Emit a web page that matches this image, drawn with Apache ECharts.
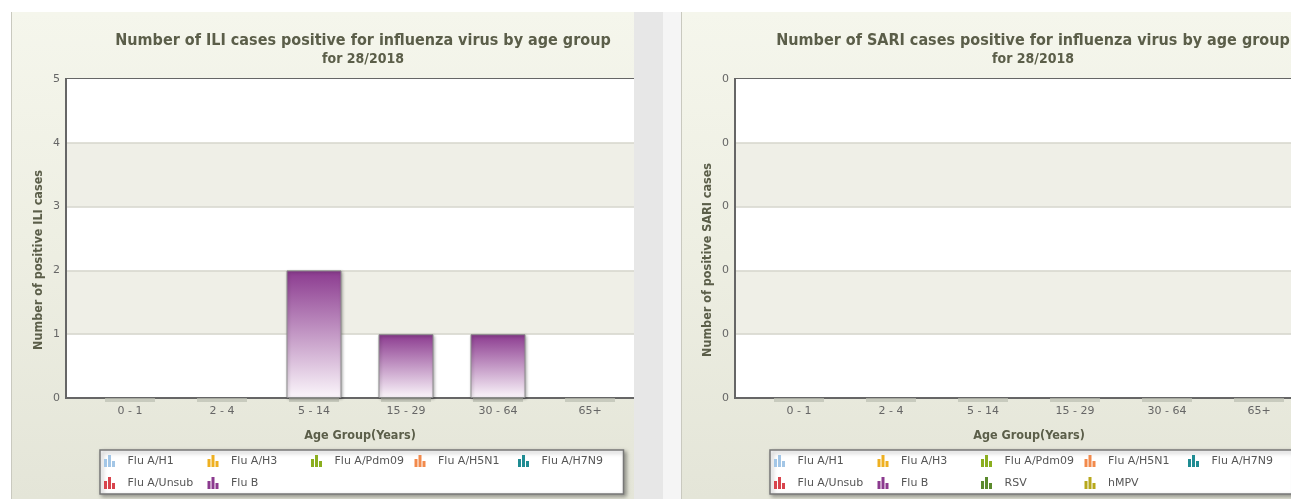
<!DOCTYPE html>
<html>
<head>
<meta charset="utf-8">
<script src="https://cdn.jsdelivr.net/npm/echarts@6/dist/echarts.min.js"></script>
<style>
  html, body { margin: 0; padding: 0; background: #fff; }
  body { width: 1291px; height: 499px; position: relative; overflow: hidden; }
  .panel {
    position: absolute; top: 12px; height: 487px; overflow: hidden;
    border-left: 1px solid #c9c9bf;
    background: linear-gradient(to bottom, #f5f6ec 0%, #eeefe3 45%, #e4e5d8 100%);
  }
  #leftPanel { left: 11px; width: 622px; }
  #rightPanel { left: 681px; width: 609px; }
  .chart { position: absolute; left: 0; top: 0; width: 702px; height: 487px; }
  #divider { position: absolute; left: 634px; top: 12px; width: 29px; height: 487px; background: #e7e7e7; }
  #divider2 { position: absolute; left: 663px; top: 12px; width: 18px; height: 487px; background: #f5f5f5; }
</style>
</head>
<body>
<div id="leftPanel" class="panel"><div id="iliChart" class="chart"></div></div>
<div id="divider"></div>
<div id="divider2"></div>
<div id="rightPanel" class="panel"><div id="sariChart" class="chart"></div></div>
<script>
const ageGroups = ['0 - 1', '2 - 4', '5 - 14', '15 - 29', '30 - 64', '65+']

const iliSeriesNames = ['Flu A/H1', 'Flu A/H3', 'Flu A/Pdm09', 'Flu A/H5N1', 'Flu A/H7N9', 'Flu A/Unsub', 'Flu B']
const iliColors = ['#a3c6e6', '#eeb021', '#8bae1f', '#f28a4c', '#1f8c92', '#d8434c', '#8b3a8f']
const iliValues = [
  [0, 0, 0, 0, 0, 0],
  [0, 0, 0, 0, 0, 0],
  [0, 0, 0, 0, 0, 0],
  [0, 0, 0, 0, 0, 0],
  [0, 0, 0, 0, 0, 0],
  [0, 0, 0, 0, 0, 0],
  [0, 0, 2, 1, 1, 0]
]

const sariSeriesNames = ['Flu A/H1', 'Flu A/H3', 'Flu A/Pdm09', 'Flu A/H5N1', 'Flu A/H7N9', 'Flu A/Unsub', 'Flu B', 'RSV', 'hMPV']
const sariColors = ['#a3c6e6', '#eeb021', '#8bae1f', '#f28a4c', '#1f8c92', '#d8434c', '#8b3a8f', '#5b8a2d', '#b7a81c']
const sariValues = [
  [0, 0, 0, 0, 0, 0],
  [0, 0, 0, 0, 0, 0],
  [0, 0, 0, 0, 0, 0],
  [0, 0, 0, 0, 0, 0],
  [0, 0, 0, 0, 0, 0],
  [0, 0, 0, 0, 0, 0],
  [0, 0, 0, 0, 0, 0],
  [0, 0, 0, 0, 0, 0],
  [0, 0, 0, 0, 0, 0]
]

const titleColor = '#5b5e49'
const labelColor = '#666'
const barIcon = 'path://M0,4h3v8h-3z M4,0h3v12h-3z M8,6h3v6h-3z'

function barColor (c) {
  // highcharts-like fade to white at the bottom
  return new echarts.graphic.LinearGradient(0, 0, 0, 1, [
    { offset: 0, color: c },
    { offset: 1, color: '#fbf6fb' }
  ])
}

function makeOption (conf) {
  const series = conf.names.map((name, i) => ({
    name: name,
    type: 'bar',
    stack: 'total',
    barWidth: 55,
    // empty cells stay undrawn so no 0-height stubs show
    data: conf.values[i].map((v, k) => v ? [k, v] : null),
    itemStyle: {
      color: barColor(conf.colors[i]),
      borderColor: '#8a8a8a',
      borderWidth: 1,
      shadowBlur: 3,
      shadowOffsetX: 1,
      shadowOffsetY: 1,
      shadowColor: 'rgba(0,0,0,0.3)'
    }
  }))

  return {
    animation: false,
    color: conf.colors,
    title: {
      text: conf.title,
      subtext: 'for 28/2018',
      left: 'center',
      top: 16,
      itemGap: 3,
      textStyle: { fontFamily: 'DejaVu Sans Condensed', fontWeight: 'bold', fontSize: 16, color: titleColor },
      subtextStyle: { fontFamily: 'DejaVu Sans Condensed', fontWeight: 'bold', fontSize: 14, color: titleColor }
    },
    grid: {
      left: conf.gridLeft, top: 67, width: 588, height: 319,
      show: true, borderColor: '#666', borderWidth: 2, backgroundColor: 'transparent'
    },
    legend: {
      data: conf.names.map((n, i) => ({ name: n, itemStyle: { color: conf.colors[i], borderWidth: 0, shadowBlur: 0 } })),
      left: 88, top: 438,
      width: 570,
      icon: barIcon,
      itemWidth: 12, itemHeight: 12,
      itemGap: 0,
      padding: [0, 2, 0, 4],
      backgroundColor: '#fff',
      borderColor: '#777',
      borderWidth: 1.5,
      shadowBlur: 4,
      shadowOffsetX: 2,
      shadowOffsetY: 2,
      shadowColor: 'rgba(0,0,0,0.35)',
      textStyle: {
        fontFamily: 'DejaVu Sans', fontSize: 11, color: '#555',
        width: 80, padding: [0, 0, 0, 7], lineHeight: 22, overflow: 'truncate'
      }
    },
    xAxis: {
      type: 'value',
      min: -64 / 92, max: 524 / 92,
      name: 'Age Group(Years)',
      nameLocation: 'middle',
      nameGap: 31,
      nameTextStyle: { fontFamily: 'DejaVu Sans Condensed', fontWeight: 'bold', fontSize: 12.5, color: titleColor },
      axisLine: { onZero: false, lineStyle: { color: '#666', width: 2 } },
      axisTick: {
        show: true, customValues: [0, 1, 2, 3, 4, 5], length: 4,
        lineStyle: { color: 'rgba(190,192,180,0.75)', width: 50 }
      },
      splitLine: { show: false },
      axisLabel: {
        customValues: [0, 1, 2, 3, 4, 5],
        formatter: v => ageGroups[Math.round(v)],
        margin: 8,
        fontFamily: 'DejaVu Sans', fontSize: 11, color: labelColor
      }
    },
    yAxis: {
      type: 'value',
      min: 0,
      max: conf.yMax,
      interval: conf.yInterval,
      axisLine: { show: true, onZero: false, lineStyle: { color: '#666', width: 2 } },
      axisTick: { show: false },
      axisLabel: {
        margin: 6,
        formatter: v => String(Math.floor(v + 1e-9)),
        fontFamily: 'DejaVu Sans', fontSize: 11, color: labelColor
      },
      splitLine: { showMinLine: false, showMaxLine: false, lineStyle: { color: '#d6d6cc', width: 1.5 } },
      splitArea: { show: true, areaStyle: { color: ['#ffffff', '#efefe7'] } }
    },
    graphic: [{
      type: 'text',
      x: conf.yNameX,
      y: 248,
      rotation: Math.PI / 2,
      style: {
        text: conf.yName,
        textAlign: 'center',
        textVerticalAlign: 'middle',
        font: 'bold 12.5px "DejaVu Sans Condensed"',
        fill: titleColor
      }
    }],
    series: series
  }
}

const iliChart = echarts.init(document.getElementById('iliChart'))
iliChart.setOption(makeOption({
  title: 'Number of ILI cases positive for influenza virus by age group',
  yName: 'Number of positive ILI cases',
  names: iliSeriesNames,
  colors: iliColors,
  values: iliValues,
  gridLeft: 54,
  yNameX: 27,
  yMax: 5,
  yInterval: 1
}))

const sariChart = echarts.init(document.getElementById('sariChart'))
sariChart.setOption(makeOption({
  title: 'Number of SARI cases positive for influenza virus by age group',
  yName: 'Number of positive SARI cases',
  names: sariSeriesNames,
  colors: sariColors,
  values: sariValues,
  gridLeft: 53,
  yNameX: 26,
  yMax: 0.5,
  yInterval: 0.1
}))
</script>
</body>
</html>
